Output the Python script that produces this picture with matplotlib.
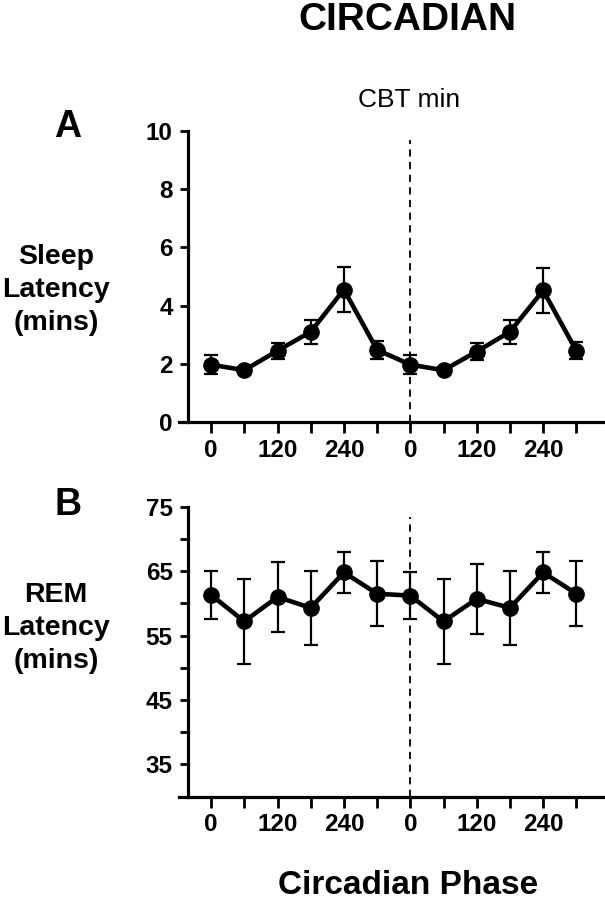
import matplotlib.pyplot as plt
import numpy as np

plt.rcParams['font.family'] = ['Liberation Sans', 'DejaVu Sans']

# circadian phase (min), double plotted
phase = [0, 60, 120, 180, 240, 300, 360, 420, 480, 540, 600, 660]
tick_labels = ['0', '', '120', '', '240', '', '0', '', '120', '', '240', '']

# A: sleep latency (mins)
sleep_lat = [1.97, 1.78, 2.45, 3.10, 4.55, 2.48, 1.97, 1.78, 2.42, 3.10, 4.52, 2.45]
sleep_err = [0.33, 0.10, 0.28, 0.42, 0.78, 0.30, 0.33, 0.10, 0.28, 0.42, 0.78, 0.30]

# B: REM latency (mins)
rem_lat = [61.3, 57.2, 61.0, 59.3, 64.8, 61.5, 61.2, 57.2, 60.7, 59.3, 64.8, 61.5]
rem_err = [3.7, 6.6, 5.4, 5.7, 3.2, 5.0, 3.7, 6.6, 5.4, 5.7, 3.2, 5.0]

cbt_min = 360

fig = plt.figure(figsize=(6.05, 9), dpi=100)
axA = fig.add_axes([179 / 605, 1 - 422 / 900, 425 / 605, 291 / 900])
axB = fig.add_axes([179 / 605, 1 - 796.7 / 900, 425 / 605, 290 / 900])


def style(ax, ylim, yticks, ylabels, dash_top):
    ax.set_xlim(-58, 710)
    ax.set_ylim(*ylim)
    for s in ['top', 'right']:
        ax.spines[s].set_visible(False)
    ax.spines['left'].set_position(('axes', 9 / 425))
    ax.spines['left'].set_linewidth(2.3)
    ax.spines['bottom'].set_linewidth(2.3)
    ax.set_xticks(phase)
    ax.set_xticklabels(tick_labels, fontsize=17.5, fontweight='bold')
    ax.set_yticks(yticks)
    ax.set_yticklabels(ylabels, fontsize=17.5, fontweight='bold')
    ax.tick_params(axis='x', length=8, width=2, pad=4)
    ax.tick_params(axis='y', length=6, width=2, pad=5)
    ax.plot([cbt_min, cbt_min], [ylim[0], dash_top], color='black', lw=1.3,
            ls=(0, (4, 3)), zorder=1)


style(axA, (0, 10), [0, 2, 4, 6, 8, 10], ['0', '2', '4', '6', '8', '10'], 9.7)
axA.errorbar(phase, sleep_lat, yerr=sleep_err, color='black', lw=3.3, marker='o',
             ms=11, elinewidth=1.6, capsize=5, capthick=1.6, zorder=3)

style(axB, (30, 75), [35, 40, 45, 50, 55, 60, 65, 70, 75],
      ['35', '', '45', '', '55', '', '65', '', '75'], 73.4)
axB.errorbar(phase, rem_lat, yerr=rem_err, color='black', lw=3.3, marker='o',
             ms=11, elinewidth=1.6, capsize=5, capthick=1.6, zorder=3)

fig.text(407 / 605, 1 - 20 / 900, 'CIRCADIAN', fontsize=28, fontweight='bold',
         ha='center', va='center')
fig.text(409 / 605, 1 - 100 / 900, 'CBT min', fontsize=19, ha='center', va='center')
fig.text(68 / 605, 1 - 127 / 900, 'A', fontsize=27, fontweight='bold',
         ha='center', va='center')
fig.text(68 / 605, 1 - 505 / 900, 'B', fontsize=27, fontweight='bold',
         ha='center', va='center')
fig.text(56 / 605, 1 - 290 / 900, 'Sleep\nLatency\n(mins)', fontsize=20.5,
         fontweight='bold', ha='center', va='center', linespacing=1.35)
fig.text(56 / 605, 1 - 628 / 900, 'REM\nLatency\n(mins)', fontsize=20.5,
         fontweight='bold', ha='center', va='center', linespacing=1.35)
fig.text(408 / 605, 1 - 885 / 900, 'Circadian Phase', fontsize=24,
         fontweight='bold', ha='center', va='center')

fig.savefig('out.png', dpi=100)
